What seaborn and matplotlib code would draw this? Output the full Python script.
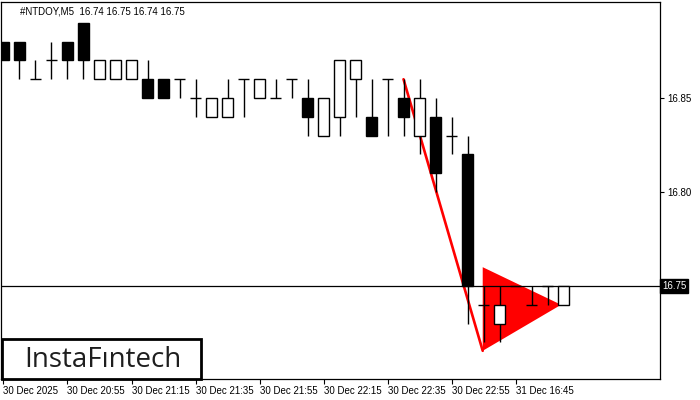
import numpy as np
import pandas as pd
import seaborn as sns
import matplotlib.pyplot as plt
from matplotlib.patches import Rectangle, Polygon

# M5 candles, NTDOY
opens  = [16.88, 16.88, 16.86, 16.87, 16.88, 16.89, 16.86, 16.86, 16.86, 16.86,
          16.86, 16.86, 16.85, 16.84, 16.84, 16.86, 16.85, 16.85, 16.86, 16.85,
          16.83, 16.84, 16.86, 16.84, 16.86, 16.85, 16.83, 16.84, 16.83, 16.82,
          16.74, 16.73, 16.75, 16.74, 16.75, 16.74]
highs  = [16.88, 16.88, 16.87, 16.88, 16.88, 16.89, 16.87, 16.87, 16.87, 16.87,
          16.86, 16.86, 16.86, 16.85, 16.86, 16.86, 16.86, 16.86, 16.86, 16.86,
          16.85, 16.87, 16.87, 16.86, 16.86, 16.86, 16.86, 16.85, 16.84, 16.83,
          16.75, 16.75, 16.75, 16.75, 16.75, 16.75]
lows   = [16.87, 16.86, 16.86, 16.86, 16.86, 16.86, 16.86, 16.86, 16.86, 16.85,
          16.85, 16.85, 16.84, 16.84, 16.84, 16.84, 16.85, 16.85, 16.85, 16.83,
          16.83, 16.83, 16.84, 16.83, 16.83, 16.83, 16.82, 16.80, 16.82, 16.73,
          16.72, 16.72, 16.75, 16.74, 16.74, 16.74]
closes = [16.87, 16.87, 16.86, 16.87, 16.87, 16.87, 16.87, 16.87, 16.87, 16.85,
          16.85, 16.86, 16.85, 16.85, 16.85, 16.86, 16.86, 16.85, 16.86, 16.84,
          16.85, 16.87, 16.87, 16.83, 16.86, 16.84, 16.85, 16.81, 16.83, 16.75,
          16.74, 16.74, 16.75, 16.74, 16.75, 16.75]

tick_pos = [0, 4, 8, 12, 16, 20, 24, 28, 32]
tick_labels = ['30 Dec 2025', '30 Dec 20:55', '30 Dec 21:15', '30 Dec 21:35',
               '30 Dec 21:55', '30 Dec 22:15', '30 Dec 22:35', '30 Dec 22:55',
               '31 Dec 16:45']

# bearish pennant: flagpole + triangle
pole_x = [25, 29.95]
pole_y = [16.86, 16.7155]
pennant_x = [29.95, 29.95, 34.85]
pennant_y = [16.760, 16.7155, 16.740]
last_price = 16.75

df = pd.DataFrame({'o': opens, 'h': highs, 'l': lows, 'c': closes})
df['i'] = np.arange(len(df))

sns.set_style('white')
plt.rcParams['font.family'] = ['Liberation Sans', 'DejaVu Sans']

fig = plt.figure(figsize=(7, 4), dpi=100)
ax = fig.add_axes([1 / 700, 21 / 400, 659 / 700, 377 / 400])

w = 0.66
# pennant drawn under the candles
ax.add_patch(Polygon(list(zip(pennant_x, pennant_y)), closed=True,
                     facecolor='#ff0000', edgecolor='none', zorder=1))
sns.lineplot(x=pole_x, y=pole_y, color='#ff0000', linewidth=1.9, ax=ax, zorder=2)

ax.axhline(last_price, color='black', linewidth=0.9, zorder=2.5)

ax.vlines(df.i, df.l, df.h, color='black', linewidth=1, zorder=3)
body = df[df.o != df.c]
up = body[body.c > body.o]
dn = body[body.c < body.o]
ax.bar(up.i, up.c - up.o, bottom=up.o, width=w, facecolor='white',
       edgecolor='black', linewidth=1, zorder=4)
ax.bar(dn.i, dn.o - dn.c, bottom=dn.c, width=w, facecolor='black',
       edgecolor='black', linewidth=1, zorder=4)
doji = df[df.o == df.c]
ax.hlines(doji.o, doji.i - w / 2, doji.i + w / 2, color='black', linewidth=1, zorder=4)

ax.set_xlim(-0.156, 41.03)
ax.set_ylim(16.7005, 16.9011)

for s in ax.spines.values():
    s.set_color('black')
    s.set_linewidth(0.9)

ax.yaxis.tick_right()
ax.set_yticks([16.80, 16.85])
ax.set_yticklabels(['16.80', '16.85'])
ax.tick_params(axis='y', direction='out', length=3, width=0.8, pad=2,
               labelsize=7, colors='black', right=True, left=False)
ax.set_xticks(tick_pos)
ax.set_xticklabels(tick_labels, ha='left')
ax.tick_params(axis='x', direction='out', length=3.5, width=0.8, pad=1.2,
               labelsize=7, colors='black', bottom=True)
for lab in ax.get_xticklabels():
    lab.set_horizontalalignment('left')
ax.set_xlabel('')
ax.set_ylabel('')

ax.text(1.003, last_price, '16.75', transform=ax.get_yaxis_transform(),
        va='center', ha='left', fontsize=7, color='white',
        bbox=dict(boxstyle='square,pad=0.2', facecolor='black', edgecolor='black'))

fig.text(20 / 700, 1 - 11 / 400, '#NTDOY,M5  16.74 16.75 16.74 16.75',
         fontsize=7, color='black', va='center', ha='left')

# logo
fig.patches.append(Rectangle((2 / 700, 21 / 400), 199 / 700, 40 / 400,
                             transform=fig.transFigure, facecolor='white',
                             edgecolor='black', linewidth=2, zorder=10))
fig.text(103 / 700, 1 - 360 / 400, 'InstaF\u0131ntech', fontsize=20,
         family=['Open Sans', 'DejaVu Sans'], fontweight='medium',
         color='#1e1e1e', ha='center', va='center', zorder=11)

fig.savefig('out.png', dpi=100, facecolor='white')
